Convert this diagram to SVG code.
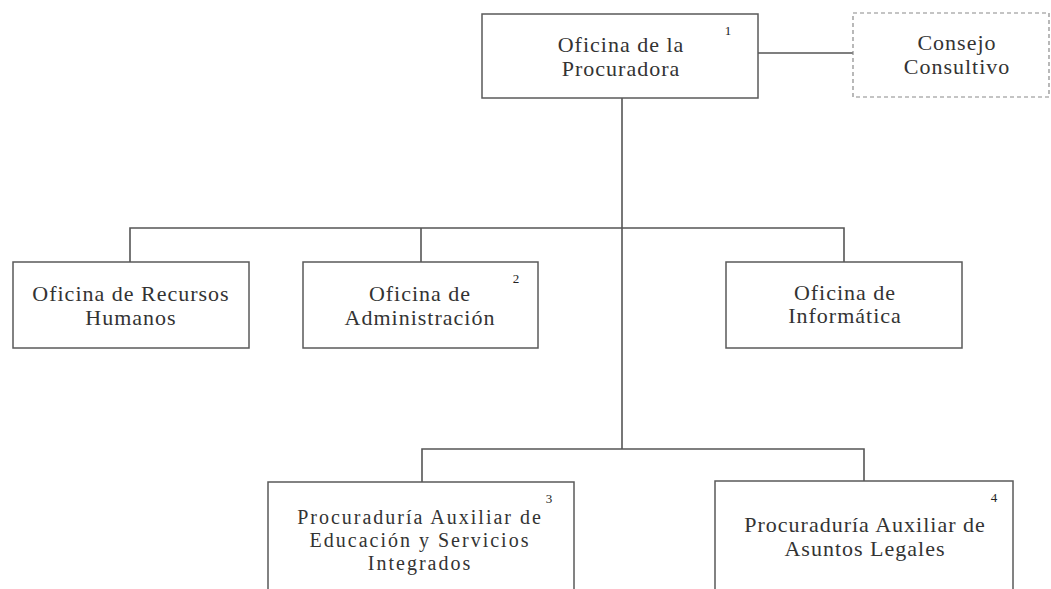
<svg xmlns="http://www.w3.org/2000/svg" width="1051" height="589" viewBox="0 0 1051 589">
<style>
.box{fill:#fff;stroke:#5a5a5a;stroke-width:1.5}
.dash{fill:#fff;stroke:#8a8a8a;stroke-width:1.2;stroke-dasharray:4 3}
.t{font-family:"Liberation Serif","Times New Roman",serif;font-size:22px;fill:#333;text-anchor:middle;letter-spacing:1px}
.s{font-size:20px;letter-spacing:2px}
.n{font-family:"Liberation Serif","Times New Roman",serif;font-size:13px;fill:#222;text-anchor:middle}
.c{fill:none;stroke:#555;stroke-width:1.6}
</style>
<rect width="1051" height="589" fill="#fff"/>
<g id="connectors">
<line class="c" x1="758" y1="53" x2="853" y2="53"/>
<line class="c" x1="622" y1="98" x2="622" y2="449"/>
<polyline class="c" points="130,262 130,228 844,228 844,262"/>
<line class="c" x1="421" y1="228" x2="421" y2="262"/>
<polyline class="c" points="422,482 422,449 864,449 864,481"/>
</g>
<g id="n1">
<rect class="box" x="482" y="14" width="276" height="84"/>
<text class="t" x="621" y="52">Oficina de la</text>
<text class="t" x="621" y="76">Procuradora</text>
<text class="n" x="728" y="35">1</text>
</g>
<g id="consejo">
<rect class="dash" x="853" y="13" width="196" height="84"/>
<text class="t" x="957" y="50">Consejo</text>
<text class="t" x="957" y="74">Consultivo</text>
</g>
<g id="rh">
<rect class="box" x="13" y="262" width="236" height="86"/>
<text class="t" x="131" y="301">Oficina de Recursos</text>
<text class="t" x="131" y="325">Humanos</text>
</g>
<g id="admin">
<rect class="box" x="303" y="262" width="235" height="86"/>
<text class="t" x="420" y="301">Oficina de</text>
<text class="t" x="420" y="325">Administración</text>
<text class="n" x="516" y="283">2</text>
</g>
<g id="info">
<rect class="box" x="726" y="262" width="236" height="86"/>
<text class="t" x="845" y="300">Oficina de</text>
<text class="t" x="845" y="323">Informática</text>
</g>
<g id="educ">
<rect class="box" x="268" y="482" width="306" height="130"/>
<text class="t s" x="420" y="524">Procuraduría Auxiliar de</text>
<text class="t s" x="420" y="547">Educación y Servicios</text>
<text class="t s" x="420" y="570">Integrados</text>
<text class="n" x="549" y="503">3</text>
</g>
<g id="legal">
<rect class="box" x="715" y="481" width="298" height="130"/>
<text class="t" x="865" y="532">Procuraduría Auxiliar de</text>
<text class="t" x="865" y="556">Asuntos Legales</text>
<text class="n" x="994" y="502">4</text>
</g>
</svg>
